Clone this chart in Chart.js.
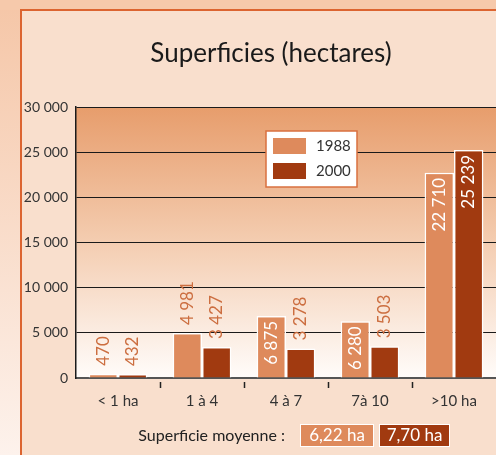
<!DOCTYPE html>
<html>
<head>
<meta charset="utf-8">
<script src="https://cdn.jsdelivr.net/npm/chart.js@4"></script>
<style>
  html, body { margin: 0; padding: 0; background: #f6c9ab; }
  #wrap { width: 496px; height: 455px; position: relative; }
</style>
</head>
<body>
<div id="wrap"><canvas id="c" width="496" height="455"></canvas></div>
<script>
const categories = ['< 1 ha', '1 à 4', '4 à 7', '7à 10', '>10 ha'];
const seriesNames = ['1988', '2000'];
const values1988 = [470, 4981, 6875, 6280, 22710];
const values2000 = [432, 3427, 3278, 3503, 25239];
const yTickValues = [0, 5000, 10000, 15000, 20000, 25000, 30000];
const avgCaption = 'Superficie moyenne :';
const avgLabels = ['6,22 ha', '7,70 ha'];

const COL1988 = '#de8a5c';
const COL2000 = '#a13a10';
const FONT = 'Lato, "Open Sans", sans-serif';

function fmt(v) {
  return String(v).replace(/\B(?=(\d{3})+(?!\d))/g, ' ');
}

const backgroundPlugin = {
  id: 'bg',
  afterLayout(chart) {
    chart.scales.y.left = 21;
  },
  beforeDraw(chart) {
    const ctx = chart.ctx;
    const W = chart.width, H = chart.height;
    ctx.save();
    ctx.fillStyle = '#f6c9ab';
    ctx.fillRect(0, 0, W, H);
    const lg = ctx.createLinearGradient(0, 0, 0, H);
    lg.addColorStop(0, '#f5c6a7');
    lg.addColorStop(1, '#fdf2ec');
    ctx.fillStyle = lg;
    ctx.fillRect(0, 10, 21, H - 10);
    ctx.fillStyle = '#f9dfcd';
    ctx.fillRect(21, 10, W - 21, H - 10);
    ctx.strokeStyle = '#dc6430';
    ctx.lineWidth = 2;
    ctx.beginPath();
    ctx.moveTo(21, H);
    ctx.lineTo(21, 10);
    ctx.lineTo(W, 10);
    ctx.stroke();
    const a = chart.chartArea;
    const g = ctx.createLinearGradient(0, a.top, 0, a.bottom);
    g.addColorStop(0, '#e79d6c');
    g.addColorStop(0.5, '#f4cdb1');
    g.addColorStop(1, '#fffcfa');
    ctx.fillStyle = g;
    ctx.fillRect(a.left, a.top, a.right - a.left, a.bottom - a.top);
    ctx.restore();
  },
  afterDraw(chart) {
    const ctx = chart.ctx;
    ctx.save();
    const lx = 266, ly = 131, lw = 91, lh = 56;
    ctx.fillStyle = '#ffffff';
    ctx.fillRect(lx, ly, lw, lh);
    ctx.strokeStyle = '#d9703f';
    ctx.lineWidth = 1.5;
    ctx.strokeRect(lx, ly, lw, lh);
    chart.data.datasets.forEach((ds, i) => {
      const sy = ly + 7 + i * 25;
      ctx.fillStyle = ds.backgroundColor;
      ctx.fillRect(lx + 7, sy, 33, 16);
      ctx.fillStyle = '#333333';
      ctx.font = '15px ' + FONT;
      ctx.textAlign = 'left';
      ctx.textBaseline = 'middle';
      ctx.fillText(ds.label, lx + 50, sy + 8.5);
    });
    ctx.font = '16px ' + FONT;
    ctx.fillStyle = '#222222';
    ctx.textAlign = 'right';
    ctx.textBaseline = 'middle';
    ctx.fillText(avgCaption, 285, 436);
    const boxes = [[300, 74, COL1988], [379, 71, COL2000]];
    avgLabels.forEach((t, i) => {
      const [bx, bw, c] = boxes[i];
      ctx.fillStyle = c;
      ctx.fillRect(bx, 424, bw, 23);
      ctx.strokeStyle = '#ffffff';
      ctx.lineWidth = 1;
      ctx.strokeRect(bx + 0.5, 424.5, bw - 1, 22);
      ctx.fillStyle = '#ffffff';
      ctx.font = '17px ' + FONT;
      ctx.textAlign = 'center';
      ctx.fillText(t, bx + bw / 2, 436);
    });
    ctx.restore();
  }
};

const valueLabelPlugin = {
  id: 'valueLabels',
  afterDatasetsDraw(chart) {
    const ctx = chart.ctx;
    ctx.save();
    ctx.font = '17px ' + FONT;
    ctx.textBaseline = 'middle';
    chart.data.datasets.forEach((ds, di) => {
      const meta = chart.getDatasetMeta(di);
      meta.data.forEach((bar, i) => {
        const txt = fmt(ds.data[i]);
        const tw = ctx.measureText(txt).width;
        const h = bar.base - bar.y;
        ctx.save();
        ctx.translate(bar.x, bar.y);
        ctx.rotate(-Math.PI / 2);
        if (h > tw + 8) {
          ctx.fillStyle = '#ffffff';
          ctx.textAlign = 'right';
          ctx.fillText(txt, -5, 0);
        } else {
          ctx.fillStyle = '#cc6e40';
          ctx.textAlign = 'left';
          ctx.fillText(txt, 8, 0);
        }
        ctx.restore();
      });
    });
    ctx.restore();
  }
};

new Chart(document.getElementById('c'), {
  type: 'bar',
  data: {
    labels: categories,
    datasets: [
      { label: seriesNames[0], data: values1988, backgroundColor: COL1988, borderColor: '#ffffff', borderWidth: 1.5 },
      { label: seriesNames[1], data: values2000, backgroundColor: COL2000, borderColor: '#ffffff', borderWidth: 1.5 }
    ]
  },
  options: {
    responsive: false,
    animation: false,
    devicePixelRatio: 1,
    layout: { padding: { left: 46, top: 10, right: 0, bottom: 41 } },
    datasets: { bar: { categoryPercentage: 0.7, barPercentage: 1.0 } },
    plugins: {
      legend: { display: false },
      tooltip: { enabled: false },
      title: {
        display: true,
        text: 'Superficies (hectares)',
        color: '#1a1a1a',
        font: { family: FONT, size: 26, weight: 'normal' },
        padding: { top: 28, bottom: 37.8 }
      }
    },
    scales: {
      x: {
        grid: {
          display: true,
          offset: true,
          drawOnChartArea: false,
          drawTicks: true,
          tickLength: 10,
          tickWidth: 1.5,
          tickBorderDash: [0, 3, 6, 20],
          tickColor: (c) => ((c.type !== 'tick' || c.index === 0) ? 'rgba(0,0,0,0)' : '#222222')
        },
        border: { display: true, color: '#555555', width: 2 },
        ticks: { color: '#333333', font: { family: FONT, size: 15 }, padding: 4 }
      },
      y: {
        min: 0,
        max: 30000,
        afterBuildTicks(scale) { scale.ticks = yTickValues.map(v => ({ value: v })); },
        afterFit(scale) { scale.width = 30; },
        grid: { color: '#1a1a1a', lineWidth: 1, drawTicks: false },
        border: { display: true, color: '#1a1a1a', width: 1.5 },
        ticks: {
          color: '#333333',
          font: { family: FONT, size: 14 },
          padding: 8,
          callback: (v) => fmt(v)
        }
      }
    }
  },
  plugins: [backgroundPlugin, valueLabelPlugin]
});
</script>
</body>
</html>
